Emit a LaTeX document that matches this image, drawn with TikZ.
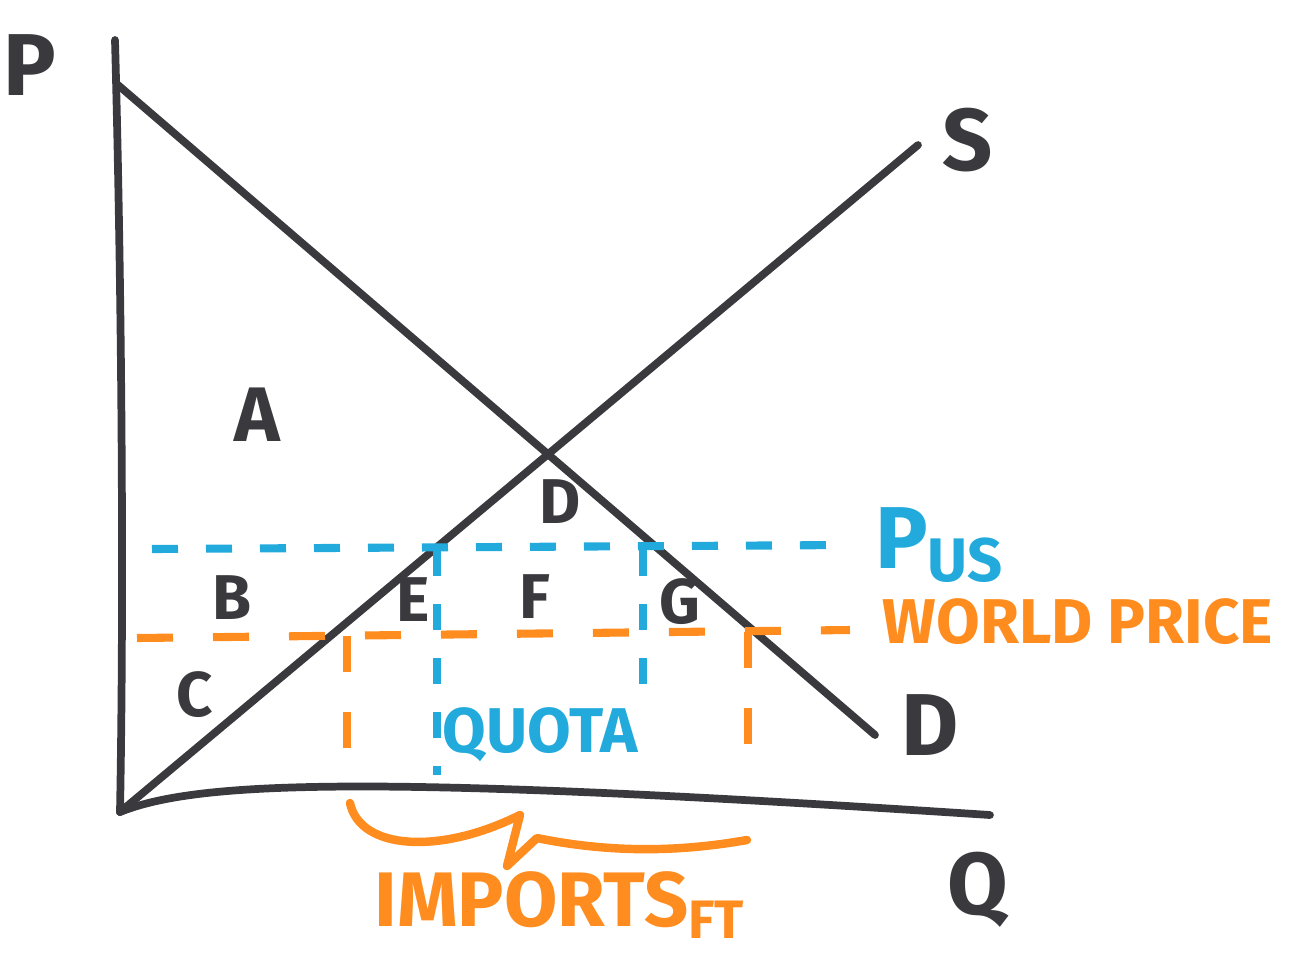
\documentclass[tikz,border=0pt]{standalone}
\usepackage{fontspec}
\setmainfont{Fira Sans}
\definecolor{ink}{RGB}{58,58,62}
\definecolor{pusblue}{RGB}{35,170,220}
\definecolor{worldorange}{RGB}{255,140,30}
\tikzset{
  curve/.style={ink, line width=2.2pt, line cap=round},
  bigletter/.style={ink, font=\fontsize{25}{28}\selectfont\bfseries},
  arealetter/.style={ink, font=\fontsize{18}{20}\selectfont\bfseries},
  bluedash/.style={pusblue, line width=2.3pt, dash pattern=on 2.6mm off 2.8mm},
  orangedash/.style={worldorange, line width=2.3pt, dash pattern=on 3.6mm off 4mm},
}
\begin{document}
\begin{tikzpicture}[x=0.1mm, y=-0.1mm, line join=round]
  \useasboundingbox (0,0) rectangle (1291,968);

  % -- Axes --
  \coordinate (top) at (115,40);
  \coordinate (origin) at (120,812);
  \coordinate (qend) at (990,815);
  \draw[curve] (top) .. controls (122,300) and (124,600) .. (origin);
  \draw[curve] (origin) .. controls (200,780) and (380,775) .. (qend);
  \node[bigletter] (plabel) at (30,65) {P};
  \node[bigletter] (qlabel) at (978,890) {Q};

  % -- Demand and supply --
  \coordinate (dtop) at (118,85);
  \coordinate (dend) at (875,735);
  \coordinate (send) at (918,145);
  \draw[curve] (dtop) -- (dend);
  \draw[curve] (origin) -- (send);
  \node[bigletter] (slabel) at (968,140) {S};
  \node[bigletter] (dlabel) at (930,725) {D};

  % -- Area letters --
  \node[bigletter, font=\fontsize{22}{24}\selectfont\bfseries] (areaA) at (257,415) {A};
  \node[arealetter] (areaB) at (232,598) {B};
  \node[arealetter] (areaC) at (195,695) {C};
  \node[arealetter] (areaD) at (560,502) {D};
  \node[arealetter] (areaE) at (413,600) {E};
  \node[arealetter] (areaF) at (535,597) {F};
  \node[arealetter] (areaG) at (680,602) {G};

  % -- US price --
  \coordinate (pusleft) at (152,549);
  \coordinate (pusright) at (850,545);
  \draw[bluedash] (pusleft) -- (pusright);
  \node[pusblue, font=\fontsize{25}{28}\selectfont\bfseries] (puslabel) at (940,545) {P$_{\mathbf{US}}$};

  % -- World price --
  \coordinate (wpleft) at (137,638);
  \coordinate (wpright) at (850,630);
  \draw[orangedash] (wpleft) -- (wpright);
  \node[worldorange, font=\fontsize{18}{20}\selectfont\bfseries] (wplabel) at (1078,622) {WORLD PRICE};

  % -- Quota --
  \draw[bluedash] (437,550) -- (437,775);
  \draw[bluedash] (643,550) -- (643,705);
  \node[pusblue, font=\fontsize{18}{20}\selectfont\bfseries] (quotalabel) at (540,735) {QUOTA};

  % -- Imports under free trade --
  \draw[orangedash] (347,636) -- (347,780);
  \draw[orangedash] (748,632) -- (748,780);
  \coordinate (braceleft) at (350,803);
  \coordinate (braceright) at (747,840);
  \draw[worldorange, line width=2.4pt, line cap=round] (braceleft)
    .. controls (360,850) and (440,855) .. (520,815)
    -- (507,866) -- (537,838)
    .. controls (620,855) and (690,850) .. (braceright);
  \node[worldorange, font=\fontsize{22}{24}\selectfont\bfseries] (importslabel) at (560,905)
    {IMPORTS$_{\mathbf{FT}}$};

\end{tikzpicture}
\end{document}
